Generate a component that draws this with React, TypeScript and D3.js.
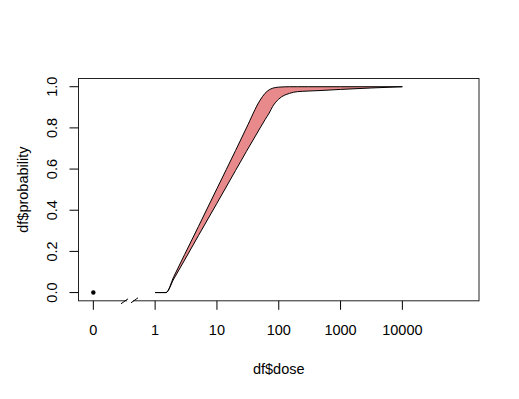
import React from "react";
import * as d3 from "d3";

const doses = [1, 1.5, 2, 3, 5, 10, 20, 30, 50, 60, 70, 80, 100, 150, 200, 300, 500, 1000, 10000];
const upperProb = [0, 0, 0.077, 0.185, 0.32, 0.505, 0.69, 0.8, 0.935, 0.968, 0.985, 0.993, 0.998, 1, 1, 1, 1, 1, 1];
const lowerProb = [0, 0, 0.066, 0.158, 0.276, 0.434, 0.593, 0.686, 0.8, 0.84, 0.872, 0.905, 0.94, 0.968, 0.976, 0.979, 0.982, 0.987, 1];
const zeroDose = [{ dose: 0, prob: 0 }];
const xTickValues = [0, 1, 10, 100, 1000, 10000];
const xTickLabels = ["0", "1", "10", "100", "1000", "10000"];
const yTickValues = [0, 0.2, 0.4, 0.6, 0.8, 1.0];

const W = 519, H = 399;
const L = 78.5, R = 479, T = 78.5, B = 300.8;
const FONT = "'Liberation Sans', Arial, sans-serif";

export default function App() {
  const x = d3.scaleLog().domain([0.1 / Math.pow(10, 0.24), 1e5 * Math.pow(10, 0.24)]).range([L, R]);
  const xp = (d: number) => (d === 0 ? x(0.1) : x(d));
  const y = d3.scaleLinear().domain([-0.04, 1.04]).range([B, T]);

  const pts = doses.map((d, i) => ({ d, hi: upperProb[i], lo: lowerProb[i] }));
  const area = d3
    .area<{ d: number; hi: number; lo: number }>()
    .x((p) => xp(p.d))
    .y0((p) => y(p.lo))
    .y1((p) => y(p.hi))
    .curve(d3.curveMonotoneX)(pts) as string;
  const lineHi = d3.line<{ d: number; hi: number; lo: number }>().x((p) => xp(p.d)).y((p) => y(p.hi)).curve(d3.curveMonotoneX)(pts) as string;
  const lineLo = d3.line<{ d: number; hi: number; lo: number }>().x((p) => xp(p.d)).y((p) => y(p.lo)).curve(d3.curveMonotoneX)(pts) as string;

  const bx = 130;
  const by = B;

  return (
    <svg width={W} height={H} style={{ position: "absolute", left: 0, top: 0 }}>
      <rect x={0} y={0} width={W} height={H} fill="white" />
      <path d={area} fill="#E8898B" stroke="none" />
      <path d={lineHi} fill="none" stroke="black" strokeWidth={1} />
      <path d={lineLo} fill="none" stroke="black" strokeWidth={1} />
      {zeroDose.map((p, i) => (
        <circle key={i} cx={xp(p.dose)} cy={y(p.prob)} r={2.2} fill="black" />
      ))}
      <rect x={L} y={T} width={R - L} height={B - T} fill="none" stroke="#222" strokeWidth={1} />
      {/* axis break */}
      <rect x={bx - 3} y={by - 2} width={6} height={4} fill="white" />
      <line x1={bx - 9} y1={by + 3} x2={bx - 2} y2={by - 2} stroke="black" strokeWidth={1} />
      <line x1={bx + 1} y1={by + 2} x2={bx + 8} y2={by - 3} stroke="black" strokeWidth={1} />
      {xTickValues.map((v, i) => (
        <g key={v}>
          <line x1={xp(v)} x2={xp(v)} y1={B} y2={B + 9} stroke="black" />
          <text x={xp(v)} y={335} textAnchor="middle" fontFamily={FONT} fontSize={14.5}>
            {xTickLabels[i]}
          </text>
        </g>
      ))}
      {yTickValues.map((v) => (
        <g key={v}>
          <line x1={L - 9} x2={L} y1={y(v)} y2={y(v)} stroke="black" />
          <text
            transform={`translate(57,${y(v)}) rotate(-90)`}
            textAnchor="middle"
            fontFamily={FONT}
            fontSize={14.5}
          >
            {v.toFixed(1)}
          </text>
        </g>
      ))}
      <text x={(L + R) / 2} y={374} textAnchor="middle" fontFamily={FONT} fontSize={14.5}>
        df$dose
      </text>
      <text transform={`translate(28,${(T + B) / 2}) rotate(-90)`} textAnchor="middle" fontFamily={FONT} fontSize={14.5}>
        df$probability
      </text>
    </svg>
  );
}
